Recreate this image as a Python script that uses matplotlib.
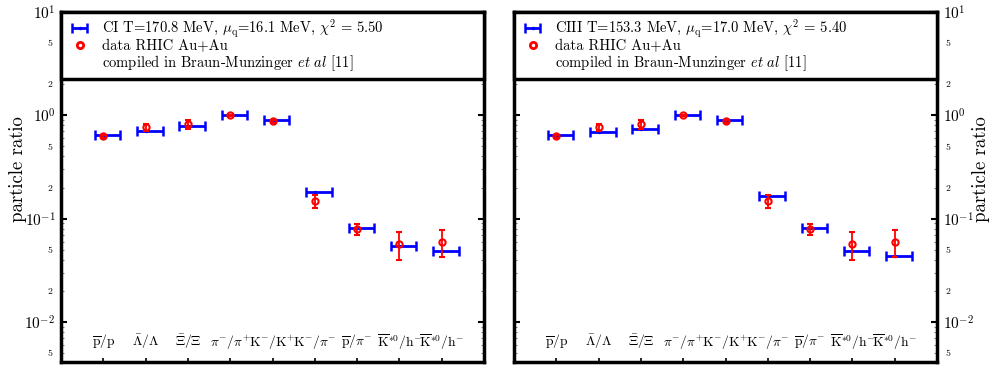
import matplotlib
matplotlib.use("Agg")
from matplotlib import pyplot as plt
from matplotlib.lines import Line2D
from matplotlib import ticker
import numpy as np

plt.rcParams['font.family'] = 'cmr10'
plt.rcParams['mathtext.fontset'] = 'cm'
plt.rcParams['axes.unicode_minus'] = False
plt.rcParams['axes.formatter.use_mathtext'] = True

# ratios
ratio_labels = [r'$\overline{\rm p}/{\rm p}$', r'$\bar{\Lambda}/\Lambda$', r'$\bar{\Xi}/\Xi$',
                r'$\pi^{-}/\pi^{+}$', r'${\rm K}^{-}/{\rm K}^{+}$', r'${\rm K}^{-}/\pi^{-}$',
                r'$\overline{\rm p}/\pi^{-}$', r'$\overline{\rm K}^{*0}/{\rm h}^{-}$',
                r'$\overline{\rm K}^{*0}/{\rm h}^{-}$']
pos = [1, 2, 3, 4, 5, 6, 7, 8, 9]

data_val = [0.63, 0.77, 0.82, 1.0, 0.88, 0.148, 0.079, 0.057, 0.060]
data_err = [0.02, 0.06, 0.08, 0.015, 0.03, 0.021, 0.01, 0.017, 0.017]

model_ci = [0.64, 0.71, 0.79, 1.0, 0.91, 0.182, 0.082, 0.0545, 0.0483]
model_ciii = [0.64, 0.695, 0.737, 1.0, 0.90, 0.166, 0.082, 0.0483, 0.0435]

legend_ci = r'CI T=170.8 MeV, $\mu_{\rm q}$=16.1 MeV, $\chi^{2}$ = 5.50'
legend_ciii = r'CIII T=153.3 MeV, $\mu_{\rm q}$=17.0 MeV, $\chi^{2}$ = 5.40'
legend_data = 'data RHIC Au+Au'
legend_ref = r'compiled in Braun-Munzinger $et\ al$ [11]'


def minor_fmt(v, p):
    m = v / 10 ** np.floor(np.log10(v) + 1e-9)
    if abs(m - 2) < 0.01 or abs(m - 5) < 0.01:
        return '%d' % round(m)
    return ''


def panel(ax, model, label, side):
    xe = [[0.2] * len(pos), [0.4] * len(pos)]
    eb = ax.errorbar(pos, model, xerr=xe, fmt='.', color='blue', ms=3,
                     lw=2, capsize=3.5, capthick=1.8, zorder=2)
    ax.errorbar(pos, data_val, yerr=data_err, fmt='o', color='red', mfc='none',
                ms=4.5, mew=1.5, lw=1.3, capsize=2.5, capthick=1.3, zorder=3)
    ax.set_yscale('log')
    ax.set_ylim(0.0041, 10)
    ax.set_xlim(0, 10)
    ax.set_xticks(pos)
    ax.set_xticklabels([])
    for x, t in zip(pos, ratio_labels):
        ax.text(x, 0.0064, t, ha='center', va='center', fontsize=9.8)
    ax.yaxis.set_major_locator(ticker.LogLocator(base=10))
    ax.yaxis.set_minor_locator(ticker.LogLocator(base=10, subs=np.arange(2, 10)))
    ax.yaxis.set_minor_formatter(ticker.FuncFormatter(minor_fmt))
    ax.tick_params(axis='y', which='major', direction='in', length=4, width=1.5,
                   labelsize=11, pad=4, left=True, right=True)
    ax.tick_params(axis='y', which='minor', direction='in', length=2.5, width=0.8,
                   color='gray', labelsize=7, pad=6, left=True, right=True)
    ax.tick_params(axis='x', which='both', direction='in', length=3, width=1.2,
                   top=False, bottom=True)
    ax.set_ylabel('particle ratio', fontsize=13.5, va='center')
    if side == 'right':
        ax.tick_params(axis='y', which='both', labelleft=False, labelright=True)
        ax.yaxis.set_label_position('right')
        ax.yaxis.set_label_coords((972 - 514) / 423, 0.55)
    else:
        ax.yaxis.set_label_coords((18 - 61) / 423, 0.55)
    for s in ax.spines.values():
        s.set_linewidth(2.5)

    h_blank = Line2D([], [], color='none')
    h_data = Line2D([], [], color='red', marker='o', ls='none', mfc='none', ms=4.5, mew=2)
    leg = ax.legend([eb, h_data, h_blank], [label, legend_data, legend_ref],
                    loc='upper left', bbox_to_anchor=(0, 0, 1, 1), mode='expand',
                    borderaxespad=0, fancybox=False, framealpha=1, edgecolor='black',
                    fontsize=10.5, handlelength=1.8, handletextpad=0.6,
                    labelspacing=0.0, borderpad=0.38)
    leg.get_frame().set_linewidth(2.5)


fig = plt.figure(figsize=(9.91, 3.67), dpi=100)
ax1 = fig.add_axes([61 / 991, 5 / 367, 423 / 991, 350 / 367])
ax2 = fig.add_axes([514 / 991, 5 / 367, 423 / 991, 350 / 367])

panel(ax1, model_ci, legend_ci, 'left')
panel(ax2, model_ciii, legend_ciii, 'right')

fig.savefig('out.png', dpi=100)
